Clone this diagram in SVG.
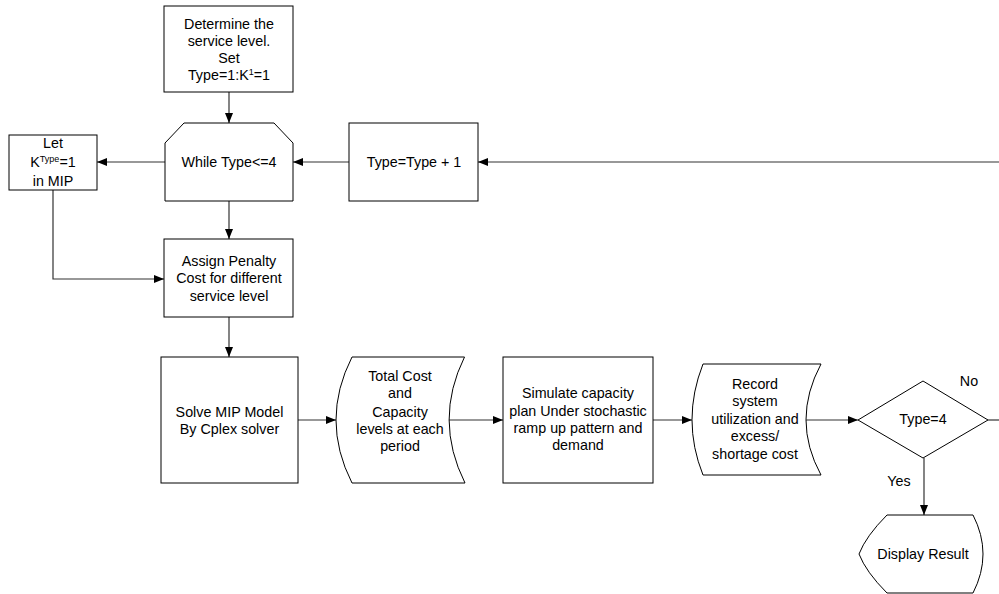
<svg xmlns="http://www.w3.org/2000/svg" width="999" height="594" viewBox="0 0 999 594">
<defs>
<marker id="arr" viewBox="0 0 10 10" refX="10" refY="5" markerWidth="10" markerHeight="10" markerUnits="userSpaceOnUse" orient="auto">
<path d="M0,1 L10,5 L0,9 Z" fill="#000"/>
</marker>
<style>
.s{fill:#fff;stroke:#000;stroke-width:1}
.c{fill:none;stroke:#333;stroke-width:1.2}
.a{marker-end:url(#arr)}
text{font-family:"Liberation Sans",Arial,sans-serif;font-size:14.3px;fill:#000;text-anchor:middle}
</style>
</defs>
<rect width="999" height="594" fill="#fff"/>
<g id="connectors">
<path class="c a" d="M229,92 L229,123"/>
<path class="c a" d="M165,162 L97,162"/>
<path class="c a" d="M349,162 L293,162"/>
<path class="c a" d="M999,162 L478,162"/>
<path class="c a" d="M229,201 L229,239"/>
<path class="c a" d="M53,190 L53,279 L164,279"/>
<path class="c a" d="M229,317 L229,357"/>
<path class="c a" d="M298,420 L336,420"/>
<path class="c a" d="M449,420 L503,420"/>
<path class="c a" d="M653,420 L692,420"/>
<path class="c a" d="M806,420 L858,420"/>
<path class="c" d="M988,420 L999,420"/>
<path class="c a" d="M924,458 L924,515"/>
<text x="969" y="386">No</text>
<text x="899" y="486">Yes</text>
</g>
<g id="determine">
<rect class="s" x="164" y="6" width="129" height="86"/>
<text x="229" y="29">Determine the</text>
<text x="229" y="46">service level.</text>
<text x="229" y="63">Set</text>
<text x="229" y="80">Type=1:K<tspan dy="-5" font-size="9">1</tspan><tspan dy="5">=1</tspan></text>
</g>
<g id="while">
<path class="s" d="M184,123 L274,123 L293,143 L293,201 L165,201 L165,143 Z"/>
<text x="229" y="167">While Type&lt;=4</text>
</g>
<g id="increment">
<rect class="s" x="349" y="123" width="129" height="78"/>
<text x="414" y="167">Type=Type + 1</text>
</g>
<g id="let">
<rect class="s" x="9" y="135" width="88" height="55"/>
<text x="53" y="148">Let</text>
<text x="53" y="167">K<tspan dy="-5" font-size="9">Type</tspan><tspan dy="5">=1</tspan></text>
<text x="53" y="186">in MIP</text>
</g>
<g id="assign">
<rect class="s" x="164" y="239" width="129" height="78"/>
<text x="229" y="266">Assign Penalty</text>
<text x="229" y="283">Cost for different</text>
<text x="229" y="301">service level</text>
</g>
<g id="solve">
<rect class="s" x="161" y="357" width="137" height="126"/>
<text x="229.5" y="417">Solve MIP Model</text>
<text x="229.5" y="434">By Cplex solver</text>
</g>
<g id="totalcost">
<path class="s" d="M352,357 L464.5,357 Q433.5,420 465,483 L352,483 Q320,420 352,357 Z"/>
<text x="400" y="381">Total Cost</text>
<text x="400" y="398">and</text>
<text x="400" y="417">Capacity</text>
<text x="400" y="434">levels at each</text>
<text x="400" y="451">period</text>
</g>
<g id="simulate">
<rect class="s" x="503" y="357" width="150" height="126"/>
<text x="578" y="398">Simulate capacity</text>
<text x="578" y="416">plan Under stochastic</text>
<text x="578" y="433">ramp up pattern and</text>
<text x="578" y="450">demand</text>
</g>
<g id="record">
<path class="s" d="M703,364 L821,364 Q791,420 821,475 L703,475 Q681,420 703,364 Z"/>
<text x="755" y="389">Record</text>
<text x="755" y="406">system</text>
<text x="755" y="424">utilization and</text>
<text x="755" y="441">excess/</text>
<text x="755" y="459">shortage cost</text>
</g>
<g id="decision">
<path class="s" d="M923,381 L988,420 L923,458 L858,420 Z"/>
<text x="923" y="424">Type=4</text>
</g>
<g id="display">
<path class="s" d="M887,515 L973,515 Q993,554 973,593 L887,593 Q866,572 859,554 Q866,536 887,515 Z"/>
<text x="923" y="559">Display Result</text>
</g>
</svg>
